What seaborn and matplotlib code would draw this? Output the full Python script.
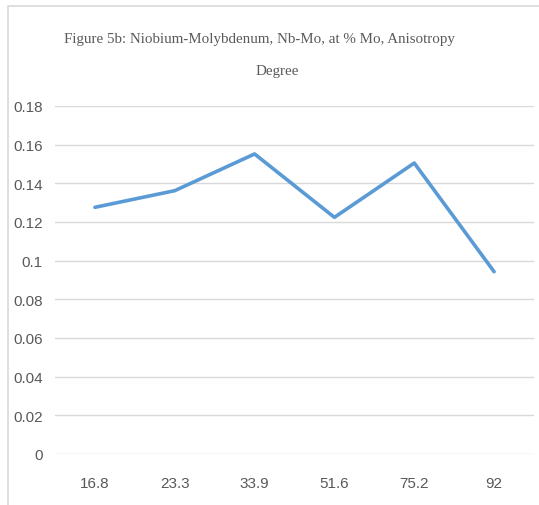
import matplotlib.pyplot as plt
import matplotlib.font_manager as fm
from matplotlib.patches import Rectangle
from matplotlib.ticker import FuncFormatter, MultipleLocator
import seaborn as sns
import pandas as pd

sns.set_theme(style="white")

# at % Mo and anisotropy degree
mo_percent = ["16.8", "23.3", "33.9", "51.6", "75.2", "92"]
anisotropy = [0.1276, 0.1362, 0.1552, 0.1224, 0.1505, 0.0943]

title_lines = ["Figure 5b: Niobium-Molybdenum, Nb-Mo, at % Mo, Anisotropy", "Degree"]

names = {f.name for f in fm.fontManager.ttflist}
tick_font = "Liberation Sans Narrow" if "Liberation Sans Narrow" in names else "Liberation Sans"

df = pd.DataFrame({"mo": mo_percent, "aniso": anisotropy})

fig = plt.figure(figsize=(5.39, 5.06), dpi=100)
ax = fig.add_axes([55 / 539, 1 - 455 / 506, 479 / 539, 348 / 506])

sns.lineplot(
    data=df,
    x="mo",
    y="aniso",
    color="#5B9BD5",
    linewidth=2.6,
    sort=False,
    ax=ax
)

ax.set_xlim(-0.5, len(mo_percent) - 0.5)
ax.set_ylim(0, 0.18)
ax.yaxis.set_major_locator(MultipleLocator(0.02))
ax.yaxis.set_major_formatter(FuncFormatter(lambda v, p: f"{round(v, 2):g}"))
ax.grid(axis="y", color="#D9D9D9", linewidth=1)
ax.grid(axis="x", visible=False)
ax.set_axisbelow(True)
for s in ax.spines.values():
    s.set_visible(False)
ax.set_xlabel("")
ax.set_ylabel("")
ax.tick_params(axis="y", length=0, pad=9, labelsize=11, labelcolor="#595959")
ax.tick_params(axis="x", length=0, pad=16, labelsize=11, labelcolor="#595959")
for lab in ax.get_xticklabels() + ax.get_yticklabels():
    lab.set_fontfamily(tick_font)

# title, two centred lines
for txt, xc, yc in zip(title_lines, [259, 277], [40, 72]):
    fig.text(
        xc / 539, 1 - yc / 506, txt,
        ha="center", va="center",
        fontsize=10.8, color="#595959",
        family="Liberation Serif"
    )

# chart area border (cropped at right and bottom)
fig.patches.append(Rectangle(
    (8 / 539, -0.1), 1.2, 1 - 7 / 506 + 0.1,
    transform=fig.transFigure, fill=False,
    edgecolor="#D9D9D9", linewidth=1.2, clip_on=False
))

fig.savefig("out.png", dpi=100)
plt.close(fig)
